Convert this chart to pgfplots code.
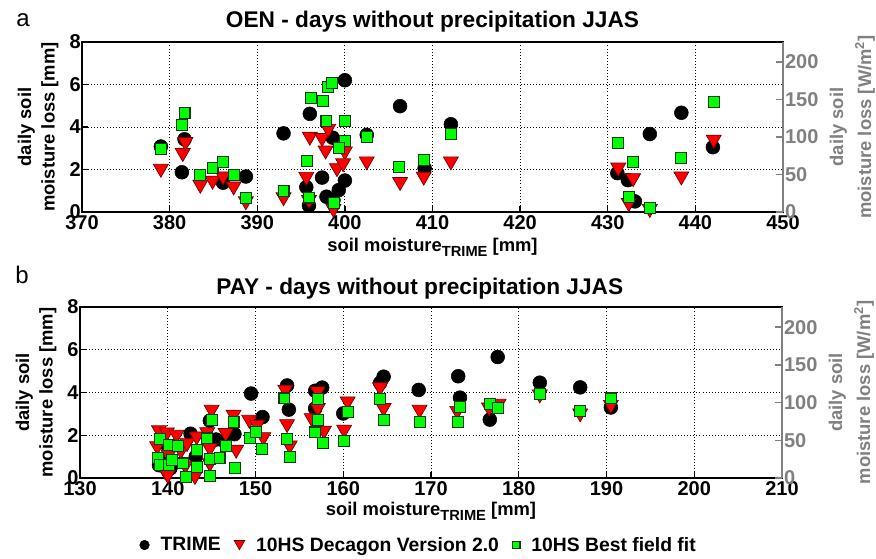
\documentclass[border=0pt]{standalone}
\usepackage{fontspec}
\setmainfont{Liberation Sans}
\usepackage{pgfplots}
\pgfplotsset{compat=1.18}
\definecolor{mkred}{RGB}{255,0,0}
\definecolor{mkredE}{RGB}{110,0,0}
\definecolor{mkgreen}{RGB}{0,255,0}
\definecolor{mkgreenE}{RGB}{20,55,20}
\definecolor{axgray}{RGB}{128,128,128}

\pgfplotsset{
  mainax/.style={
    scale only axis, width=525.75pt, height=127.5pt,
    ymin=0, ymax=8, ytick={0,2,4,6,8},
    clip=false,
    axis line style={black, line width=1.4pt},
    grid=major,
    major grid style={black, line width=0.7pt, dash pattern=on 0.7pt off 1.6pt},
    tick align=inside, major tick length=4.5pt,
    tick style={black, line width=1pt},
    xtick pos=bottom, ytick pos=left,
    /pgf/number format/assume math mode=true,
    /pgf/number format/1000 sep={},
    ticklabel style={font=\fontsize{15}{15}\selectfont\bfseries},
    yticklabel style={xshift=2.5pt},
    xticklabel style={yshift=1pt},
    ylabel={daily soil\\moisture loss [mm]},
    ylabel style={font=\fontsize{13.8}{17.5}\selectfont\bfseries, align=center,
      at={(axis description cs:-0.027,0.5)}, anchor=south},
    xlabel={soil moisture\raisebox{-0.5ex}{\fontsize{11}{11}\selectfont TRIME} [mm]},
    xlabel style={font=\fontsize{13.8}{17}\selectfont\bfseries, anchor=base},
    title style={font=\fontsize{17}{17}\selectfont\bfseries, anchor=base},
    circ/.style={only marks, mark=*, mark size=5.2pt, mark options={fill=black, draw=black}},
    tri/.style={only marks, mark=triangle*, mark size=6.5pt,
      mark options={yshift=1.6pt, rotate=180, fill=mkred, draw=mkredE, line width=0.5pt}},
    sqr/.style={only marks, mark=square*, mark size=4.1pt,
      mark options={fill=mkgreen, draw=mkgreenE, line width=0.8pt}},
  },
  rightax/.style={
    scale only axis, width=525.75pt, height=127.5pt,
    axis x line=none, axis y line*=right,
    xmin=0, xmax=1, ymin=0, ymax=226.7, ytick={0,50,100,150,200},
    axis line style={axgray, line width=1.4pt},
    tick style={axgray, line width=1pt}, tick align=inside, major tick length=5pt,
    /pgf/number format/assume math mode=true,
    yticklabel style={axgray, font=\fontsize{15}{15}\selectfont\bfseries, xshift=-2pt},
    ylabel={daily soil\\moisture loss [W/m\textsuperscript{2}]},
    ylabel style={axgray, font=\fontsize{13.8}{21}\selectfont\bfseries, align=center,
      at={(axis description cs:1.06,0.5)}, anchor=north},
  },
}

\begin{document}
\begin{tikzpicture}
\useasboundingbox (0pt,0pt) rectangle (657pt,-419.25pt);
\node[font=\fontsize{18}{18}\selectfont] at (17.25pt,-15pt) {a};
\node[font=\fontsize{18}{18}\selectfont] at (16.5pt,-206.25pt) {b};

% ---------------- panel a ----------------
\begin{axis}[mainax, at={(61.5pt,-159pt)}, anchor=south west,
  xmin=370, xmax=450, xtick={370,380,...,450},
  title={OEN - days without precipitation JJAS},
  title style={at={(axis description cs:0.5,1)}, yshift=5.25pt},
  xlabel style={at={(axis description cs:0.5,-0.235)}},
]
\addplot[circ] table {
379.0 3.08
381.4 1.87
381.7 3.42
386.1 1.38
388.7 1.67
393.0 3.70
396.0 4.62
395.6 1.17
395.9 0.30
397.4 1.62
397.9 0.72
398.7 0.55
398.6 3.50
399.3 1.03
400.0 1.48
400.0 6.20
402.5 3.63
406.3 4.98
409.1 2.06
412.1 4.13
431.1 1.83
432.3 1.50
433.1 0.50
434.8 3.67
438.4 4.67
442.0 3.05
};
\addplot[tri] table {
379.0 1.94
381.5 2.68
381.8 3.20
383.5 1.19
384.9 1.38
386.1 1.58
387.3 1.11
388.7 0.41
393.0 0.60
395.6 1.56
396.0 3.45
395.9 0.47
397.4 3.39
398.1 3.82
397.8 2.80
399.1 1.97
400.0 2.76
399.8 2.20
398.7 0.05
402.5 2.29
406.3 1.32
409.0 1.57
412.1 2.29
431.2 2.00
432.9 1.50
432.4 0.33
434.8 0.05
438.4 1.58
442.1 3.31
};
\addplot[sqr] table {
379.0 2.96
381.4 4.09
381.7 4.67
383.5 1.74
384.9 2.08
386.1 2.37
387.3 1.74
388.7 0.67
393.0 0.99
395.7 2.39
396.1 5.35
395.9 0.68
397.5 5.22
398.1 5.87
398.5 6.06
397.9 4.30
400.0 4.30
400.0 3.33
399.3 3.02
398.8 0.43
402.5 3.52
406.2 2.10
409.0 2.46
412.1 3.67
431.2 3.23
432.9 2.37
432.4 0.69
434.8 0.20
438.4 2.56
442.1 5.19
};
\end{axis}
\begin{axis}[rightax, at={(61.5pt,-159pt)}, anchor=south west]
\end{axis}

% ---------------- panel b ----------------
\begin{axis}[mainax, at={(60pt,-358.5pt)}, anchor=south west,
  width=526.5pt, height=128.25pt,
  xmin=130, xmax=210, xtick={130,140,...,210},
  title={PAY - days without precipitation JJAS},
  title style={at={(axis description cs:0.484,1)}, yshift=3.75pt},
  xlabel style={at={(axis description cs:0.5,-0.222)}},
  legend style={draw=none, fill=none, at={(axis description cs:0.483,-0.392)},
    anchor=center, legend columns=3,
    font=\fontsize{14.5}{15}\selectfont\bfseries,
    /tikz/every odd column/.append style={column sep=6.5pt},
    /tikz/every even column/.append style={column sep=8pt}},
  legend cell align=left,
]
\addlegendimage{only marks, mark=*, mark size=3.6pt, mark options={fill=black, draw=black}}
\addlegendentry{TRIME}
\addlegendimage{only marks, mark=triangle*, mark size=4.6pt, mark options={yshift=1.1pt, rotate=180, fill=mkred, draw=mkredE, line width=0.5pt}}
\addlegendentry{10HS Decagon Version 2.0}
\addlegendimage{only marks, mark=square*, mark size=2.9pt, mark options={fill=mkgreen, draw=mkgreenE, line width=0.8pt}}
\addlegendentry{10HS Best field fit}
\addplot[circ, forget plot] table {
139.0 0.60
139.5 0.90
140.3 0.45
140.0 1.50
142.6 2.07
143.2 1.00
144.8 2.68
145.5 1.80
146.5 1.70
147.6 2.05
149.5 3.95
150.8 2.85
153.6 4.33
153.8 3.20
156.8 4.08
157.6 4.23
156.8 3.25
160.0 3.02
164.2 4.45
164.6 4.74
168.6 4.12
173.1 4.76
173.3 3.76
176.7 2.73
177.6 5.66
182.4 4.46
187.0 4.24
190.5 3.30
};
\addplot[tri, forget plot] table {
138.8 1.39
139.0 2.14
139.9 2.04
141.0 1.93
140.1 1.00
139.7 0.22
140.0 0.05
141.5 1.20
142.2 1.54
143.3 1.85
143.1 0.00
142.0 0.50
144.5 2.05
144.8 1.31
145.0 3.10
144.8 0.60
146.6 2.01
147.5 2.87
147.8 1.23
149.3 2.63
150.2 2.40
150.9 1.82
153.4 4.04
153.6 2.43
153.9 1.43
157.1 3.96
157.1 3.18
156.4 2.71
157.8 2.12
160.5 3.49
160.1 2.17
164.2 4.15
164.6 3.18
168.7 3.10
173.0 3.05
176.6 3.21
177.7 3.38
182.4 3.82
187.0 2.93
190.5 3.33
};
\addplot[sqr, forget plot] table {
139.1 1.82
140.1 1.54
141.2 1.51
138.9 0.92
139.1 0.61
140.1 0.61
140.5 0.84
141.7 0.68
143.3 1.31
143.3 0.53
142.1 0.06
144.5 1.85
145.0 2.71
144.8 0.89
144.8 0.11
145.9 0.95
146.6 1.50
147.5 2.60
147.7 0.48
149.4 1.89
150.1 2.14
150.7 1.34
153.3 3.72
153.6 1.81
153.9 1.00
157.1 3.68
157.1 2.71
156.8 2.13
157.7 1.62
160.5 3.10
160.1 1.75
164.2 3.69
164.6 2.71
168.7 2.63
173.3 3.33
173.1 2.60
176.7 3.46
177.6 3.29
182.4 3.95
187.0 3.12
190.5 3.72
};
\end{axis}
\begin{axis}[rightax, at={(60pt,-358.5pt)}, anchor=south west, width=526.5pt, height=128.25pt]
\end{axis}
\end{tikzpicture}
\end{document}
